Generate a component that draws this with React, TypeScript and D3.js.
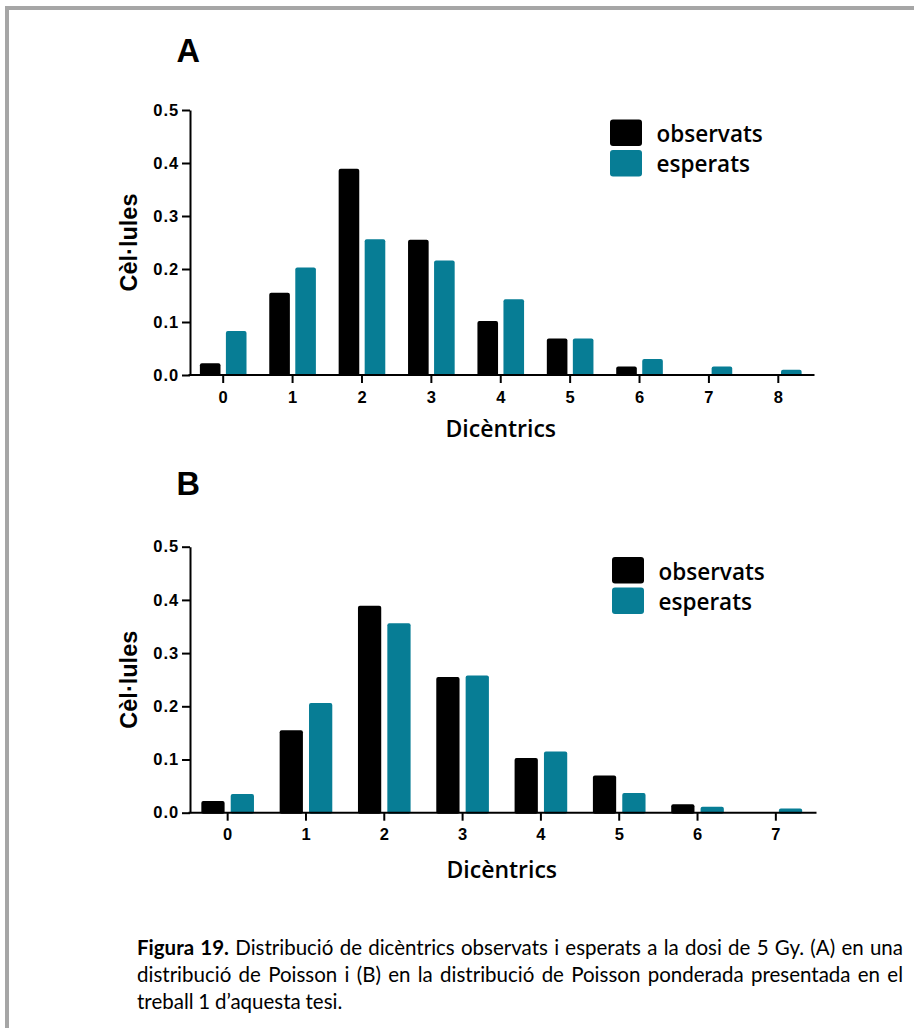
import React, { useRef, useEffect } from "react";
import * as d3 from "d3";

// ---- data ----
const seriesNames = ["observats", "esperats"];
const seriesColors = ["#000000", "#077d95"];

const categoriesA = ["0", "1", "2", "3", "4", "5", "6", "7", "8"];
const observatsA = [0.022, 0.155, 0.389, 0.255, 0.102, 0.069, 0.016, 0, 0];
const esperatsA = [0.083, 0.203, 0.256, 0.216, 0.143, 0.069, 0.03, 0.016, 0.01];

const categoriesB = ["0", "1", "2", "3", "4", "5", "6", "7"];
const observatsB = [0.022, 0.155, 0.389, 0.255, 0.103, 0.07, 0.016, 0];
const esperatsB = [0.035, 0.206, 0.356, 0.258, 0.115, 0.037, 0.011, 0.008];

const yTicks = [0, 0.1, 0.2, 0.3, 0.4, 0.5];
const xTitle = "Dicèntrics";
const yTitle = "Cèl·lules";

const captionLines = [
  "Figura 19. Distribució de dicèntrics observats i esperats a la dosi de 5 Gy. (A) en una",
  "distribució de Poisson i (B) en la distribució de Poisson ponderada presentada en el",
  "treball 1 d’aquesta tesi.",
];
const captionBoldWords = 2;

const W = 914;
const H = 1028;

const axisFont = "'Liberation Sans', Arial, sans-serif";
const labelFont = "'Open Sans', sans-serif";
const captionFont = "Lato, 'Open Sans', sans-serif";

const App = () => {
  const svgRef = useRef<SVGSVGElement>(null);

  useEffect(() => {
    const svg = d3.select(svgRef.current);
    svg.selectAll("*").remove();

    // frame (top and left rules)
    svg.append("rect").attr("x", 5).attr("y", 6).attr("width", W - 5).attr("height", 4).attr("fill", "#a6a6a6");
    svg.append("rect").attr("x", 5).attr("y", 6).attr("width", 4).attr("height", H - 6).attr("fill", "#a6a6a6");

    const drawPanel = (opts) => {
      const { cats, obs, esp, xr, yr, label, labelY, legendX, legendY, titleY } = opts;
      const g = svg.append("g");

      const x = d3.scaleBand().domain(cats).range(xr).paddingInner(0.328).paddingOuter(0.164);
      const xi = d3.scaleBand().domain(seriesNames).range([0, x.bandwidth()]).paddingInner(0.208);
      const y = d3.scaleLinear().domain([0, 0.5]).range(yr);

      const rows = cats.map((c, i) => ({ c, vals: [obs[i], esp[i]] }));

      // bars
      g.selectAll("g.grp")
        .data(rows)
        .enter()
        .append("g")
        .attr("transform", (d) => `translate(${x(d.c)},0)`)
        .selectAll("rect")
        .data((d) => d.vals.map((v, k) => ({ v, k })).filter((e) => e.v > 0))
        .enter()
        .append("rect")
        .attr("x", (e) => xi(seriesNames[e.k]))
        .attr("width", xi.bandwidth())
        .attr("y", (e) => y(e.v))
        .attr("height", (e) => y(0) - y(e.v) + 1)
        .attr("rx", 2)
        .attr("fill", (e) => seriesColors[e.k]);

      // y axis
      const ya = g
        .append("g")
        .attr("transform", `translate(${xr[0] + 1.5},0)`)
        .call(
          d3.axisLeft(y).tickValues(yTicks).tickFormat(d3.format(".1f")).tickSize(8).tickSizeOuter(0).tickPadding(3)
        );
      // x axis
      const xa = g
        .append("g")
        .attr("transform", `translate(0,${yr[0]})`)
        .call(d3.axisBottom(x).tickSize(8).tickSizeOuter(0).tickPadding(8));
      xa.select(".domain").attr("d", `M${xr[0]},0H${xr[1] + 1.5}`);

      [ya, xa].forEach((a) => {
        a.selectAll("path, line").attr("stroke", "#000").attr("stroke-width", 2);
        a.selectAll("text")
          .attr("fill", "#000")
          .style("font-family", axisFont)
          .style("font-weight", "bold")
          .style("font-size", "16.5px");
      });
      ya.selectAll("text").style("letter-spacing", "0.9px");

      // axis titles
      g.append("text")
        .attr("x", (xr[0] + xr[1]) / 2)
        .attr("y", titleY)
        .attr("text-anchor", "middle")
        .style("font-family", labelFont)
        .style("font-weight", 600)
        .style("font-size", "23px")
        .text(xTitle);
      g.append("text")
        .attr("transform", `translate(136.5,${(yr[0] + yr[1]) / 2}) rotate(-90)`)
        .attr("text-anchor", "middle")
        .style("font-family", axisFont)
        .style("font-weight", "bold")
        .style("font-size", "23.5px")
        .text(yTitle);

      // panel letter
      g.append("text")
        .attr("x", 176.5)
        .attr("y", labelY)
        .style("font-family", axisFont)
        .style("font-weight", "bold")
        .style("font-size", "32.5px")
        .text(label);

      // legend
      seriesNames.forEach((s, k) => {
        g.append("rect")
          .attr("x", legendX)
          .attr("y", legendY + k * 30.5)
          .attr("width", 32)
          .attr("height", 26.5)
          .attr("rx", 3)
          .attr("fill", seriesColors[k]);
        g.append("text")
          .attr("x", legendX + 46.5)
          .attr("y", legendY + 22.5 + k * 30)
          .style("font-family", labelFont)
          .style("font-weight", 600)
          .style("font-size", "22.5px")
          .text(s);
      });
    };

    drawPanel({
      cats: categoriesA,
      obs: observatsA,
      esp: esperatsA,
      xr: [188.5, 813],
      yr: [375, 110],
      label: "A",
      labelY: 61.7,
      legendX: 610,
      legendY: 119.5,
      titleY: 437,
    });
    drawPanel({
      cats: categoriesB,
      obs: observatsB,
      esp: esperatsB,
      xr: [188.5, 815],
      yr: [812.7, 546.7],
      label: "B",
      labelY: 495,
      legendX: 612,
      legendY: 557,
      titleY: 878,
    });

    // caption, justified
    const left = 137;
    const right = 903;
    const cap = svg.append("g").style("font-family", captionFont).style("font-size", "20.5px").attr("fill", "#000");
    let wordIndex = 0;
    captionLines.forEach((line, li) => {
      const words = line.split(" ");
      const baseY = 955 + li * 27;
      const nodes = words.map((w) => {
        const t = cap.append("text").attr("y", baseY).text(w);
        if (wordIndex < captionBoldWords) t.style("font-weight", "bold");
        wordIndex++;
        return t;
      });
      const widths = nodes.map((t) => (t.node() as SVGTextElement).getComputedTextLength());
      const total = d3.sum(widths);
      const last = li === captionLines.length - 1;
      const gap = last ? 4.8 : (right - left - total) / (words.length - 1);
      let cx = left;
      nodes.forEach((t, i) => {
        t.attr("x", cx);
        cx += widths[i] + gap;
      });
    });
  }, []);

  return (
    <svg
      ref={svgRef}
      width={W}
      height={H}
      style={{ position: "absolute", left: 0, top: 0, background: "#fff" }}
    />
  );
};

export default App;
